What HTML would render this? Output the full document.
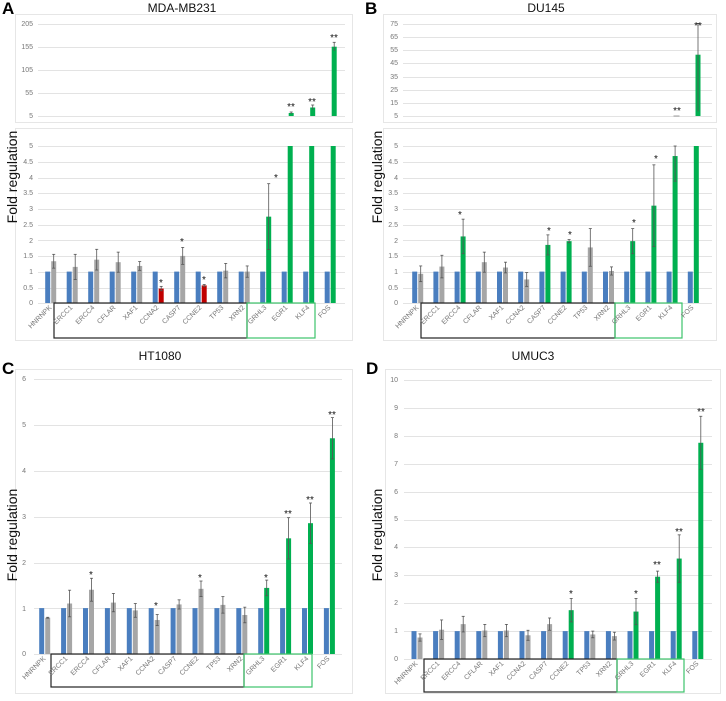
<!DOCTYPE html>
<html><head><meta charset="utf-8"><style>
html,body{margin:0;padding:0;background:#fff}
svg{display:block;font-family:"Liberation Sans",sans-serif}
.t{font-size:7px;fill:#777}
.xl{font-size:7px;fill:#777}
.ti{font-size:12px;fill:#111}
.yl{font-size:14px;fill:#111}
.pl{font-size:17px;font-weight:bold;fill:#000}
</style></head><body>
<svg id="s" width="726" height="701" viewBox="0 0 726 701" xmlns="http://www.w3.org/2000/svg">
<g id="frames" fill="none" stroke="#e6e6e6" stroke-width="1">
<rect x="15.5" y="14.5" width="337" height="108"/>
<rect x="15.5" y="128.5" width="337" height="212"/>
<rect x="383.5" y="14.5" width="333" height="108"/>
<rect x="383.5" y="128.5" width="333" height="212"/>
<rect x="15.5" y="369.5" width="337" height="324"/>
<rect x="385.5" y="369.5" width="335" height="324"/>
</g>
<g id="grid" stroke="#e3e3e3" stroke-width="1"></g>
<g id="bars"></g>
<g fill="none" stroke-width="1.2">
<rect x="54" y="303" width="193" height="35" stroke="#222"/>
<rect x="247" y="303" width="68" height="35" stroke="#3cc36a"/>
<rect x="421" y="303" width="194" height="35" stroke="#222"/>
<rect x="615" y="303" width="67" height="35" stroke="#3cc36a"/>
<rect x="51" y="654" width="193" height="33" stroke="#222"/>
<rect x="244" y="654" width="68" height="33" stroke="#3cc36a"/>
<rect x="424" y="659" width="193" height="33" stroke="#222"/>
<rect x="617" y="659" width="67" height="33" stroke="#3cc36a"/>
</g>
<text class="pl" x="2" y="14">A</text>
<text class="pl" x="365" y="14">B</text>
<text class="pl" x="2" y="374">C</text>
<text class="pl" x="366" y="374">D</text>
<text class="ti" x="182" y="12" text-anchor="middle">MDA-MB231</text>
<text class="ti" x="546" y="12" text-anchor="middle">DU145</text>
<text class="ti" x="160" y="360" text-anchor="middle">HT1080</text>
<text class="ti" x="533" y="360" text-anchor="middle">UMUC3</text>
<text class="yl" transform="translate(17,177) rotate(-90)" text-anchor="middle">Fold regulation</text>
<text class="yl" transform="translate(382,177) rotate(-90)" text-anchor="middle">Fold regulation</text>
<text class="yl" transform="translate(17,535) rotate(-90)" text-anchor="middle">Fold regulation</text>
<text class="yl" transform="translate(382,535) rotate(-90)" text-anchor="middle">Fold regulation</text>
<g class="t" text-anchor="end">
<text x="33" y="26">205</text><text x="33" y="49">155</text><text x="33" y="72">105</text><text x="33" y="95">55</text><text x="33" y="118">5</text>
<text x="33" y="148">5</text><text x="33" y="164">4.5</text><text x="33" y="180">4</text><text x="33" y="195">3.5</text><text x="33" y="211">3</text><text x="33" y="227">2.5</text><text x="33" y="243">2</text><text x="33" y="258">1.5</text><text x="33" y="274">1</text><text x="33" y="290">0.5</text><text x="33" y="305">0</text>
<text x="398" y="26">75</text><text x="398" y="39">65</text><text x="398" y="52">55</text><text x="398" y="65">45</text><text x="398" y="79">35</text><text x="398" y="92">25</text><text x="398" y="105">15</text><text x="398" y="118">5</text>
<text x="398" y="148">5</text><text x="398" y="164">4.5</text><text x="398" y="180">4</text><text x="398" y="195">3.5</text><text x="398" y="211">3</text><text x="398" y="227">2.5</text><text x="398" y="243">2</text><text x="398" y="258">1.5</text><text x="398" y="274">1</text><text x="398" y="290">0.5</text><text x="398" y="305">0</text>
<text x="26" y="381">6</text><text x="26" y="427">5</text><text x="26" y="473">4</text><text x="26" y="519">3</text><text x="26" y="565">2</text><text x="26" y="611">1</text><text x="26" y="656">0</text>
<text x="398" y="382">10</text><text x="398" y="410">9</text><text x="398" y="438">8</text><text x="398" y="466">7</text><text x="398" y="494">6</text><text x="398" y="521">5</text><text x="398" y="549">4</text><text x="398" y="577">3</text><text x="398" y="605">2</text><text x="398" y="633">1</text><text x="398" y="661">0</text>
</g>
<g class="xl" text-anchor="end">
<text transform="translate(52,308) rotate(-45)">HNRNPK</text><text transform="translate(73,308) rotate(-45)">ERCC1</text><text transform="translate(95,308) rotate(-45)">ERCC4</text><text transform="translate(116,308) rotate(-45)">CFLAR</text><text transform="translate(138,308) rotate(-45)">XAF1</text><text transform="translate(159,308) rotate(-45)">CCNA2</text><text transform="translate(181,308) rotate(-45)">CASP7</text><text transform="translate(202,308) rotate(-45)">CCNE2</text><text transform="translate(224,308) rotate(-45)">TP53</text><text transform="translate(245,308) rotate(-45)">XRN2</text><text transform="translate(267,308) rotate(-45)">GRHL3</text><text transform="translate(288,308) rotate(-45)">EGR1</text><text transform="translate(310,308) rotate(-45)">KLF4</text><text transform="translate(331,308) rotate(-45)">FOS</text>
<text transform="translate(419,308) rotate(-45)">HNRNPK</text><text transform="translate(440,308) rotate(-45)">ERCC1</text><text transform="translate(461,308) rotate(-45)">ERCC4</text><text transform="translate(482,308) rotate(-45)">CFLAR</text><text transform="translate(504,308) rotate(-45)">XAF1</text><text transform="translate(525,308) rotate(-45)">CCNA2</text><text transform="translate(546,308) rotate(-45)">CASP7</text><text transform="translate(567,308) rotate(-45)">CCNE2</text><text transform="translate(588,308) rotate(-45)">TP53</text><text transform="translate(610,308) rotate(-45)">XRN2</text><text transform="translate(631,308) rotate(-45)">GRHL3</text><text transform="translate(652,308) rotate(-45)">EGR1</text><text transform="translate(673,308) rotate(-45)">KLF4</text><text transform="translate(694,308) rotate(-45)">FOS</text>
<text transform="translate(46,659) rotate(-45)">HNRNPK</text><text transform="translate(68,659) rotate(-45)">ERCC1</text><text transform="translate(90,659) rotate(-45)">ERCC4</text><text transform="translate(111,659) rotate(-45)">CFLAR</text><text transform="translate(133,659) rotate(-45)">XAF1</text><text transform="translate(155,659) rotate(-45)">CCNA2</text><text transform="translate(177,659) rotate(-45)">CASP7</text><text transform="translate(199,659) rotate(-45)">CCNE2</text><text transform="translate(221,659) rotate(-45)">TP53</text><text transform="translate(243,659) rotate(-45)">XRN2</text><text transform="translate(265,659) rotate(-45)">GRHL3</text><text transform="translate(287,659) rotate(-45)">EGR1</text><text transform="translate(309,659) rotate(-45)">KLF4</text><text transform="translate(330,659) rotate(-45)">FOS</text>
<text transform="translate(418,664) rotate(-45)">HNRNPK</text><text transform="translate(440,664) rotate(-45)">ERCC1</text><text transform="translate(461,664) rotate(-45)">ERCC4</text><text transform="translate(483,664) rotate(-45)">CFLAR</text><text transform="translate(504,664) rotate(-45)">XAF1</text><text transform="translate(526,664) rotate(-45)">CCNA2</text><text transform="translate(548,664) rotate(-45)">CASP7</text><text transform="translate(569,664) rotate(-45)">CCNE2</text><text transform="translate(591,664) rotate(-45)">TP53</text><text transform="translate(612,664) rotate(-45)">XRN2</text><text transform="translate(634,664) rotate(-45)">GRHL3</text><text transform="translate(656,664) rotate(-45)">EGR1</text><text transform="translate(677,664) rotate(-45)">KLF4</text><text transform="translate(699,664) rotate(-45)">FOS</text>
</g>
<g id="stars" font-size="10" fill="#111" text-anchor="middle">
<text x="276" y="181">*</text><text x="182" y="245">*</text><text x="161" y="286">*</text><text x="204" y="283">*</text>
<text x="291" y="110">**</text><text x="312" y="105">**</text><text x="334" y="41">**</text>
<text x="460" y="218">*</text><text x="549" y="234">*</text><text x="570" y="238">*</text><text x="634" y="226">*</text><text x="656" y="162">*</text>
<text x="677" y="114">**</text><text x="698" y="29">**</text>
<text x="91" y="578">*</text><text x="156" y="609">*</text><text x="200" y="581">*</text><text x="266" y="581">*</text><text x="288" y="517">**</text><text x="310" y="503">**</text><text x="332" y="418">**</text>
<text x="571" y="597">*</text><text x="636" y="597">*</text><text x="657" y="568">**</text><text x="679" y="535">**</text><text x="701" y="415">**</text>
</g>
</svg>
<script>
(function(){
var NS="http://www.w3.org/2000/svg",bars=document.getElementById("bars"),grid=document.getElementById("grid");
function el(n,a,p){var e=document.createElementNS(NS,n);for(var k in a)e.setAttribute(k,a[k]);(p||bars).appendChild(e);return e;}
var B="#4a7ebf",G="#a6a6a6",Gr="#00b050",R="#c00000";
function gridlines(x1,x2,ys){ys.forEach(function(y){el("line",{x1:x1,x2:x2,y1:y+.5,y2:y+.5},grid);});}
gridlines(38,345,[24,47,70,93,116]);
gridlines(38,345,[146,162,178,193,209,225,240,256,272,288,303]);
gridlines(403,712,[24,37,50,63,77,90,103,116]);
gridlines(403,712,[146,162,178,193,209,225,240,256,272,288,303]);
gridlines(34,342,[379,425,471,517,563,608,654]);
gridlines(404,712,[380,408,436,464,492,520,547,575,603,631,659]);
function panel(c0,sp,y0,ppu,ymaxPx,data){
 data.forEach(function(d,i){
  var c=c0+i*sp;
  var yb=y0-1*ppu;
  el("rect",{x:c-2.5,y:yb,width:5,height:ppu,fill:B});
  var v=d[0],e=d[1],col=d[2]||G;
  var top=Math.max(y0-v*ppu,ymaxPx);
  el("rect",{x:c+3.5,y:top,width:5,height:y0-top,fill:col});
  if(e>0&&y0-v*ppu>=ymaxPx){
   var a=Math.max(y0-(v+e)*ppu,ymaxPx),b=y0-(v-e)*ppu,x=c+6;
   el("line",{x1:x,x2:x,y1:a,y2:b,stroke:"#555","stroke-width":.8});
   el("line",{x1:x-1.5,x2:x+1.5,y1:a,y2:a,stroke:"#555","stroke-width":.8});
   el("line",{x1:x-1.5,x2:x+1.5,y1:b,y2:b,stroke:"#555","stroke-width":.8});
  }
 });
}
panel(47.7,21.5,303,31.4,146,[[1.33,.22],[1.15,.4],[1.38,.33],[1.3,.32],[1.18,.14],[.46,.07,R],[1.5,.27],[.56,.03,R],[1.03,.23],[1,.18],[2.75,1.05,Gr],[9,0,Gr],[9,0,Gr],[9,0,Gr]]);
function topbar(x,yTop,yBot,eTop,eBot){el("rect",{x:x,y:yTop,width:5,height:yBot-yTop,fill:Gr});if(eTop){el("line",{x1:x+2.5,x2:x+2.5,y1:eTop,y2:eBot,stroke:"#555","stroke-width":.8});el("line",{x1:x+1,x2:x+4,y1:eTop,y2:eTop,stroke:"#555","stroke-width":.8});}}
topbar(288.7,113,116,112,114);topbar(310.2,107.5,116,105,110);topbar(331.7,46.7,116,42.3,51);
panel(414.7,21.2,303,31.4,146,[[.93,.25],[1.16,.36],[2.12,.55,Gr],[1.3,.32],[1.13,.17],[.75,.22],[1.85,.32,Gr],[1.97,.05,Gr],[1.77,.6],[1.02,.13],[1.97,.4,Gr],[3.1,1.3,Gr],[4.68,.8,Gr],[9,0,Gr]]);
topbar(695.5,54.7,116,23.6,111.5);
el("line",{x1:673.5,x2:679.5,y1:116,y2:116,stroke:"#888","stroke-width":.8});
panel(41.7,21.9,654,45.9,369,[[.79,.01],[1.1,.29],[1.4,.25],[1.12,.2],[.95,.15],[.74,.12],[1.08,.1],[1.42,.17],[1.07,.18],[.85,.17],[1.44,.17,Gr],[2.52,.45,Gr],[2.85,.44,Gr],[4.7,.45,Gr]]);
panel(414,21.6,659,27.9,369,[[.77,.13],[1.05,.35],[1.25,.28],[1.02,.22],[1.02,.22],[.85,.18],[1.25,.22],[1.75,.42,Gr],[.88,.12],[.82,.14],[1.7,.47,Gr],[2.95,.2,Gr],[3.6,.85,Gr],[7.75,.95,Gr]]);
})();
</script>
</body></html>
